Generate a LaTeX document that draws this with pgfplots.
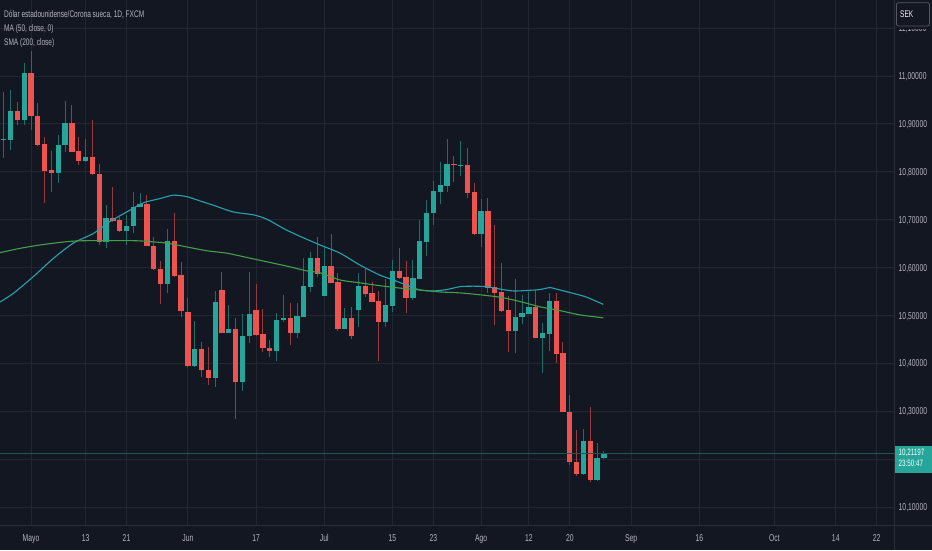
\documentclass[border=0pt]{standalone}
\usepackage{fontspec}
\setmainfont{Liberation Sans}[FakeStretch=0.68]
\usepackage{pgfplots}
\usepackage{pgfplotstable}
\pgfplotsset{compat=1.18}
\definecolor{bg}{HTML}{131722}
\definecolor{gridc}{HTML}{222632}
\definecolor{sep}{HTML}{2A2E39}
\definecolor{txt}{HTML}{B2B5BE}
\definecolor{tvup}{HTML}{26A69A}
\definecolor{tvdn}{HTML}{EF5350}
\colorlet{tvupw}{tvup!60!bg}
\colorlet{tvdnw}{tvdn!60!bg}
\definecolor{maline}{HTML}{26A2AE}
\definecolor{smaline}{HTML}{43A047}

\pgfplotstableread{
i o h l c
-4 10.867 10.967 10.828 10.869
-3 10.866 10.971 10.845 10.927
-1 10.907 11.026 10.898 11.007
4 10.797 10.877 10.776 10.855
5 10.855 10.948 10.842 10.901
8 10.822 10.869 10.821 10.830
11 10.653 10.730 10.640 10.704
14 10.676 10.710 10.647 10.687
15 10.687 10.758 10.671 10.727
16 10.726 10.755 10.726 10.733
20 10.566 10.680 10.546 10.655
24 10.394 10.489 10.393 10.430
27 10.369 10.550 10.351 10.528
29 10.464 10.522 10.463 10.472
31 10.360 10.503 10.343 10.457
32 10.457 10.591 10.442 10.503
36 10.426 10.506 10.405 10.490
37 10.490 10.543 10.487 10.495
39 10.464 10.525 10.452 10.499
40 10.497 10.619 10.497 10.561
41 10.560 10.633 10.548 10.619
43 10.541 10.643 10.541 10.603
46 10.472 10.515 10.471 10.494
48 10.511 10.588 10.475 10.561
52 10.487 10.577 10.475 10.521
53 10.520 10.616 10.508 10.593
56 10.536 10.616 10.532 10.579
57 10.577 10.699 10.577 10.655
58 10.654 10.740 10.625 10.714
59 10.714 10.781 10.689 10.760
60 10.758 10.821 10.733 10.772
61 10.771 10.868 10.758 10.817
63 10.812 10.864 10.791 10.815
66 10.670 10.744 10.642 10.719
71 10.468 10.577 10.422 10.497
72 10.496 10.543 10.483 10.506
73 10.503 10.549 10.502 10.518
75 10.452 10.485 10.379 10.463
76 10.462 10.546 10.426 10.531
81 10.169 10.263 10.167 10.237
83 10.156 10.233 10.155 10.202
84 10.202 10.216 10.200 10.21197
}\up

\pgfplotstableread{
i o h l c
-2 10.927 10.946 10.898 10.907
0 11.007 11.051 10.887 10.916
1 10.916 10.944 10.854 10.856
2 10.858 10.873 10.734 10.801
3 10.804 10.844 10.758 10.797
6 10.901 10.939 10.841 10.841
7 10.843 10.872 10.814 10.823
9 10.830 10.907 10.794 10.795
10 10.795 10.817 10.647 10.653
12 10.704 10.769 10.696 10.698
13 10.699 10.706 10.675 10.676
17 10.733 10.751 10.644 10.644
18 10.645 10.664 10.595 10.596
19 10.597 10.614 10.524 10.566
21 10.655 10.714 10.581 10.583
22 10.584 10.611 10.497 10.509
23 10.508 10.536 10.393 10.394
25 10.430 10.444 10.372 10.386
26 10.386 10.433 10.355 10.369
28 10.552 10.590 10.463 10.464
30 10.472 10.494 10.283 10.360
33 10.511 10.565 10.457 10.459
34 10.461 10.513 10.424 10.431
35 10.431 10.449 10.414 10.426
38 10.495 10.525 10.438 10.464
42 10.619 10.663 10.581 10.586
44 10.603 10.669 10.567 10.568
45 10.570 10.589 10.467 10.472
47 10.494 10.517 10.450 10.456
49 10.561 10.598 10.539 10.545
50 10.547 10.569 10.527 10.529
51 10.530 10.550 10.405 10.487
54 10.593 10.640 10.577 10.579
55 10.581 10.614 10.506 10.536
62 10.817 10.833 10.779 10.813
64 10.814 10.850 10.746 10.756
65 10.758 10.776 10.667 10.670
67 10.719 10.746 10.547 10.558
68 10.559 10.689 10.480 10.547
69 10.548 10.609 10.508 10.510
70 10.512 10.541 10.423 10.468
74 10.518 10.552 10.452 10.452
77 10.531 10.546 10.400 10.420
78 10.422 10.444 10.298 10.298
79 10.299 10.334 10.188 10.193
80 10.194 10.261 10.165 10.169
82 10.237 10.309 10.152 10.156
}\dn

\begin{document}
\begin{tikzpicture}
\useasboundingbox (0,0) rectangle (932pt,550pt);
\fill[bg] (0,0) rectangle (932pt,550pt);
\begin{axis}[
  at={(0pt,25pt)}, anchor=south west,
  scale only axis, width=894pt, height=525pt,
  xmin=-4.55, xmax=126.54, ymin=10.0624, ymax=11.1585,
  axis line style={draw=none},
  major tick length=0pt,
  tick style={draw=none},
  xmajorgrids, ymajorgrids,
  grid style={gridc, line width=0.8pt},
  xtick={0,8,14,23,33,43,53,59,66,73,79,88,98,109,118,124},
  xticklabels={Mayo,13,21,Jun,17,Jul,15,23,Ago,12,20,Sep,16,Oct,14,22},
  xticklabel style={anchor=base, inner sep=0pt, yshift=-16.9pt, text=txt, font=\fontsize{10}{12}\selectfont},
  ytick={10.1,10.3,10.4,10.5,10.6,10.7,10.8,10.9,11.0,11.1},
  extra y ticks={10.2},
  extra y tick labels={},
  extra y tick style={ymajorgrids, grid style={gridc, line width=0.8pt}},
  yticklabel pos=right,
  /pgf/number format/assume math mode=true,
  yticklabel={\pgfmathprintnumber[fixed, fixed zerofill, precision=5, use comma]{\tick}},
  yticklabel style={anchor=base west, inner sep=0pt, xshift=4.5pt, yshift=-3.65pt, text=txt, font=\fontsize{10}{12}\selectfont},
]
% wicks
\addplot[draw=none, mark=none, forget plot,
  error bars/.cd, y dir=plus, y explicit, error mark=none,
  error bar style={line width=1pt, draw=tvupw}]
  table[x=i, y=l, y error plus expr=\thisrow{h}-\thisrow{l}] {\up};
\addplot[draw=none, mark=none, forget plot,
  error bars/.cd, y dir=plus, y explicit, error mark=none,
  error bar style={line width=1pt, draw=tvdnw}]
  table[x=i, y=l, y error plus expr=\thisrow{h}-\thisrow{l}] {\dn};
% bodies
\addplot[draw=none, mark=none, forget plot,
  error bars/.cd, y dir=plus, y explicit, error mark=none,
  error bar style={line width=5.3pt, draw=tvup}]
  table[x=i, y=o, y error plus expr=\thisrow{c}-\thisrow{o}] {\up};
\addplot[draw=none, mark=none, forget plot,
  error bars/.cd, y dir=plus, y explicit, error mark=none,
  error bar style={line width=5.3pt, draw=tvdn}]
  table[x=i, y=c, y error plus expr=\thisrow{o}-\thisrow{c}] {\dn};
% price line
\addplot[tvup!45!bg, line width=0.9pt] coordinates {(-4.55,10.21197) (126.54,10.21197)};
% MA 50
\addplot[maline, line width=1.1pt, smooth, tension=0.4] coordinates {
(-4.55,10.528) (-2.60,10.546) (0.34,10.581) (3.27,10.619) (6.20,10.651) (9.13,10.671)
(11.58,10.696) (14.03,10.716) (16.47,10.735) (18.91,10.744) (20.87,10.751) (22.83,10.748)
(24.78,10.739) (26.73,10.730) (29.66,10.716) (32.60,10.710) (34.56,10.701) (37.49,10.678)
(40.42,10.659) (42.38,10.647) (45.31,10.630) (48.24,10.605) (51.17,10.584) (53.12,10.574)
(55.09,10.563) (57.04,10.553) (58.99,10.551) (60.95,10.554) (62.90,10.560) (64.85,10.561)
(66.82,10.560) (68.77,10.555) (70.72,10.551) (72.68,10.552) (74.63,10.554) (76.10,10.558)
(77.57,10.553) (79.52,10.546) (81.48,10.538) (83.91,10.523)};
% SMA 200
\addplot[smaline, line width=1.1pt, smooth, tension=0.4] coordinates {
(-4.55,10.631) (-1.61,10.640) (1.32,10.647) (5.23,10.654) (8.17,10.656) (15.0,10.656)
(17.45,10.654) (19.90,10.651) (22.83,10.643) (25.76,10.635) (28.69,10.630) (31.63,10.621)
(34.56,10.612) (37.49,10.603) (40.42,10.593) (42.38,10.589) (45.31,10.574) (48.24,10.568)
(51.17,10.562) (54.11,10.557) (57.04,10.553) (59.97,10.549) (62.90,10.547) (65.84,10.543)
(68.77,10.538) (71.70,10.529) (74.63,10.518) (77.57,10.510) (80.5,10.501) (83.91,10.495)};
\end{axis}
% separators
\draw[sep, line width=1pt] (894pt,0) -- (894pt,550pt);
\draw[sep, line width=1pt] (0,24.5pt) -- (932pt,24.5pt);
% legend texts
\node[anchor=base west, inner sep=0pt, text=txt, font=\fontsize{9.6}{11}\selectfont] at (4pt,532pt) {Dólar estadounidense/Corona sueca, 1D, FXCM};
\node[anchor=base west, inner sep=0pt, text=txt, font=\fontsize{9.6}{11}\selectfont] at (4pt,518.3pt) {MA (50, close, 0)};
\node[anchor=base west, inner sep=0pt, text=txt, font=\fontsize{9.6}{11}\selectfont] at (4pt,504.3pt) {SMA (200, close)};
% SEK box
\fill[bg] (895pt,550pt) rectangle (932pt,520.5pt);
\filldraw[fill=bg, draw=sep!80!white, line width=0.8pt, rounded corners=2pt] (896.5pt,547.3pt) rectangle (929.5pt,524pt);
\node[anchor=base west, text=white!85!txt, font=\fontsize{9.6}{11}\selectfont, inner sep=0pt] at (900pt,532.7pt) {SEK};
% price tag
\fill[tvup] (894.5pt,104.5pt) rectangle (932pt,77.3pt);
\node[anchor=base west, text=white, font=\fontsize{9.2}{11}\selectfont, inner sep=0pt] at (898.5pt,94.8pt) {10,21197};
\node[anchor=base west, text=white, font=\fontsize{9.2}{11}\selectfont, inner sep=0pt] at (898.5pt,83.6pt) {23:50:47};
\end{tikzpicture}
\end{document}
